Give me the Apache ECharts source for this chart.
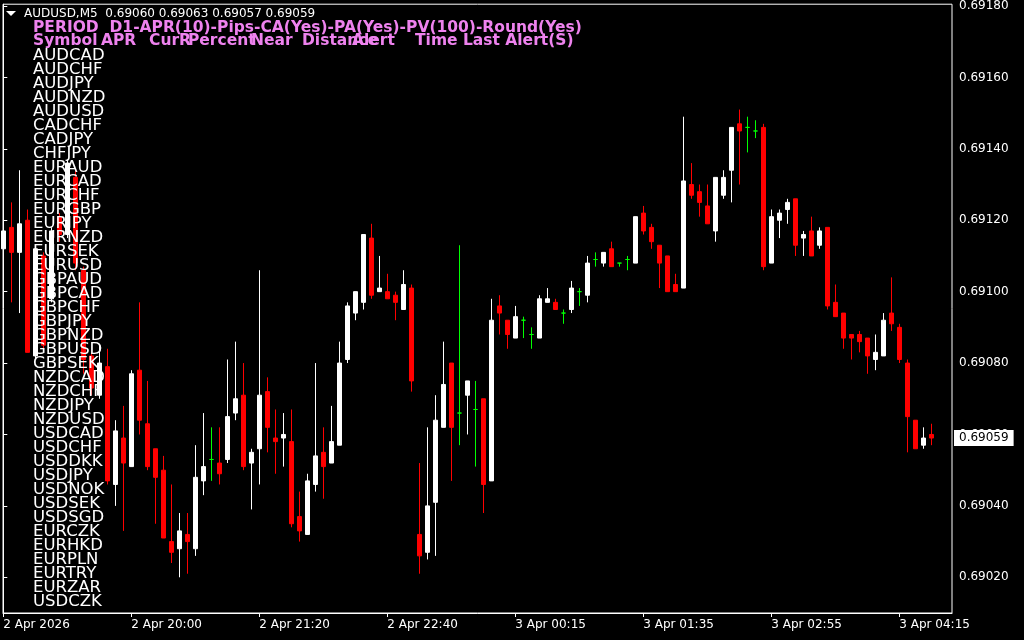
<!DOCTYPE html>
<html>
<head>
<meta charset="utf-8">
<title>AUDUSD,M5</title>
<script src="https://cdn.jsdelivr.net/npm/echarts@6/dist/echarts.min.js"></script>
<style>
  html, body { margin: 0; padding: 0; background: #000; }
  #chart { width: 1024px; height: 640px; }
</style>
</head>
<body>
<div id="chart"></div>
<script>
// M5 bars, oldest first
const opens = [
  0.69112, 0.69118, 0.69111, 0.69120, 0.69082, 0.69110, 0.69098, 0.69121, 0.69116, 0.69132,
  0.69106, 0.69082, 0.69071, 0.69079, 0.69046, 0.69059, 0.69051, 0.69078, 0.69063, 0.69056,
  0.69050, 0.69030, 0.69028, 0.69032, 0.69028, 0.69047, 0.69053, 0.69052, 0.69053, 0.69066,
  0.69071, 0.69052, 0.69056, 0.69072, 0.69059, 0.69059, 0.69058, 0.69037, 0.69032, 0.69046,
  0.69055, 0.69052, 0.69057, 0.69081, 0.69094, 0.69097, 0.69115, 0.69100, 0.69100, 0.69099,
  0.69095, 0.69101, 0.69032, 0.69027, 0.69041, 0.69062, 0.69080, 0.69066, 0.69071, 0.69067,
  0.69070, 0.69047, 0.69096, 0.69092, 0.69087, 0.69092, 0.69088, 0.69087, 0.69097, 0.69097,
  0.69094, 0.69095, 0.69100, 0.69099, 0.69109, 0.69108, 0.69112, 0.69108, 0.69109, 0.69108,
  0.69122, 0.69118, 0.69113, 0.69110, 0.69102, 0.69101, 0.69130, 0.69128, 0.69124, 0.69117,
  0.69127, 0.69134, 0.69147, 0.69146, 0.69145, 0.69146, 0.69108, 0.69120, 0.69123, 0.69126,
  0.69115, 0.69117, 0.69113, 0.69118, 0.69097, 0.69094, 0.69088, 0.69088, 0.69087, 0.69081,
  0.69082, 0.69094, 0.69090, 0.69080, 0.69064, 0.69057, 0.69060
]
const closes = [
  0.69117, 0.69111, 0.69119, 0.69083, 0.69112, 0.69085, 0.69117, 0.69116, 0.69136, 0.69108,
  0.69081, 0.69073, 0.69080, 0.69047, 0.69061, 0.69052, 0.69077, 0.69064, 0.69051, 0.69048,
  0.69031, 0.69027, 0.69033, 0.69030, 0.69048, 0.69051, 0.69053, 0.69049, 0.69065, 0.69070,
  0.69051, 0.69055, 0.69071, 0.69062, 0.69058, 0.69060, 0.69035, 0.69033, 0.69047, 0.69054,
  0.69051, 0.69058, 0.69080, 0.69096, 0.69100, 0.69116, 0.69099, 0.69101, 0.69098, 0.69097,
  0.69102, 0.69075, 0.69026, 0.69040, 0.69064, 0.69074, 0.69062, 0.69066, 0.69075, 0.69067,
  0.69046, 0.69092, 0.69094, 0.69088, 0.69093, 0.69092, 0.69088, 0.69098, 0.69098, 0.69095,
  0.69094, 0.69101, 0.69100, 0.69108, 0.69109, 0.69111, 0.69107, 0.69108, 0.69109, 0.69121,
  0.69117, 0.69114, 0.69108, 0.69100, 0.69100, 0.69131, 0.69127, 0.69125, 0.69119, 0.69132,
  0.69132, 0.69146, 0.69145, 0.69146, 0.69145, 0.69107, 0.69121, 0.69122, 0.69125, 0.69113,
  0.69116, 0.69110, 0.69117, 0.69096, 0.69093, 0.69087, 0.69087, 0.69086, 0.69082, 0.69083,
  0.69092, 0.69091, 0.69081, 0.69065, 0.69056, 0.69059, 0.69059
]
const lows = [
  0.69096, 0.69097, 0.69094, 0.69083, 0.69081, 0.69084, 0.69097, 0.69114, 0.69115, 0.69106,
  0.69077, 0.69071, 0.69070, 0.69046, 0.69040, 0.69033, 0.69051, 0.69060, 0.69050, 0.69035,
  0.69031, 0.69024, 0.69020, 0.69021, 0.69026, 0.69043, 0.69047, 0.69046, 0.69052, 0.69064,
  0.69050, 0.69039, 0.69046, 0.69055, 0.69049, 0.69051, 0.69034, 0.69030, 0.69032, 0.69044,
  0.69042, 0.69052, 0.69057, 0.69080, 0.69092, 0.69095, 0.69098, 0.69100, 0.69098, 0.69092,
  0.69095, 0.69072, 0.69021, 0.69025, 0.69026, 0.69062, 0.69047, 0.69057, 0.69060, 0.69051,
  0.69038, 0.69047, 0.69088, 0.69084, 0.69087, 0.69087, 0.69084, 0.69087, 0.69097, 0.69095,
  0.69091, 0.69094, 0.69096, 0.69097, 0.69107, 0.69107, 0.69107, 0.69107, 0.69106, 0.69108,
  0.69116, 0.69112, 0.69101, 0.69100, 0.69100, 0.69101, 0.69126, 0.69121, 0.69119, 0.69114,
  0.69126, 0.69125, 0.69130, 0.69139, 0.69143, 0.69106, 0.69108, 0.69115, 0.69119, 0.69110,
  0.69110, 0.69110, 0.69112, 0.69095, 0.69093, 0.69084, 0.69081, 0.69083, 0.69077, 0.69078,
  0.69082, 0.69089, 0.69080, 0.69055, 0.69056, 0.69056, 0.69057
]
const highs = [
  0.69119, 0.69125, 0.69134, 0.69123, 0.69113, 0.69111, 0.69118, 0.69122, 0.69137, 0.69134,
  0.69107, 0.69083, 0.69085, 0.69084, 0.69064, 0.69068, 0.69078, 0.69097, 0.69075, 0.69056,
  0.69054, 0.69046, 0.69038, 0.69038, 0.69057, 0.69066, 0.69062, 0.69062, 0.69081, 0.69086,
  0.69080, 0.69056, 0.69106, 0.69076, 0.69067, 0.69066, 0.69067, 0.69044, 0.69049, 0.69080,
  0.69062, 0.69068, 0.69086, 0.69097, 0.69100, 0.69116, 0.69119, 0.69110, 0.69105, 0.69100,
  0.69106, 0.69102, 0.69052, 0.69062, 0.69071, 0.69086, 0.69080, 0.69113, 0.69075, 0.69075,
  0.69070, 0.69098, 0.69099, 0.69092, 0.69096, 0.69093, 0.69090, 0.69099, 0.69101, 0.69098,
  0.69095, 0.69103, 0.69101, 0.69110, 0.69111, 0.69111, 0.69114, 0.69108, 0.69110, 0.69121,
  0.69124, 0.69119, 0.69113, 0.69110, 0.69105, 0.69149, 0.69136, 0.69130, 0.69130, 0.69132,
  0.69134, 0.69146, 0.69151, 0.69149, 0.69148, 0.69147, 0.69123, 0.69123, 0.69126, 0.69126,
  0.69117, 0.69121, 0.69118, 0.69118, 0.69102, 0.69094, 0.69088, 0.69089, 0.69087, 0.69088,
  0.69094, 0.69104, 0.69091, 0.69081, 0.69064, 0.69062, 0.69063
]

// time scale: bar index -> label
const tickIndex = [0, 16, 32, 48, 64, 80, 96, 112]
const tickLabels = ['2 Apr 2026', '2 Apr 20:00', '2 Apr 21:20', '2 Apr 22:40',
  '3 Apr 00:15', '3 Apr 01:35', '3 Apr 02:55', '3 Apr 04:15']
const priceTicks = [0.6902, 0.6904, 0.6906, 0.6908, 0.6910, 0.6912, 0.6914, 0.6916, 0.6918]

// indicator overlay text
const titleLine = 'AUDUSD,M5  0.69060 0.69063 0.69057 0.69059'
const periodLine = 'PERIOD  D1-APR(10)-Pips-CA(Yes)-PA(Yes)-PV(100)-Round(Yes)'
const columnTitles = ['Symbol', 'APR', 'CurR', 'Percent', 'Near', 'Distance', 'Alert', 'Time Last Alert(S)']
const watchList = [
  'AUDCAD', 'AUDCHF', 'AUDJPY', 'AUDNZD', 'AUDUSD', 'CADCHF', 'CADJPY', 'CHFJPY',
  'EURAUD', 'EURCAD', 'EURCHF', 'EURGBP', 'EURJPY', 'EURNZD', 'EURSEK', 'EURUSD',
  'GBPAUD', 'GBPCAD', 'GBPCHF', 'GBPJPY', 'GBPNZD', 'GBPUSD', 'GBPSEK', 'NZDCAD',
  'NZDCHF', 'NZDJPY', 'NZDUSD', 'USDCAD', 'USDCHF', 'USDDKK', 'USDJPY', 'USDNOK',
  'USDSEK', 'USDSGD', 'EURCZK', 'EURHKD', 'EURPLN', 'EURTRY', 'EURZAR', 'USDCZK'
]

// layout
const columnX = [33, 101, 149, 188, 251, 302, 352, 415]
const BULL = '#ffffff'
const BEAR = '#ff0000'
const DOJI = '#00ff00'
const VIOLET = '#ee82ee'
const AXIS_FONT = '"DejaVu Sans", sans-serif'

const candles = opens.map((o, i) => {
  const item = { value: [i, o, closes[i], lows[i], highs[i]] }
  if (o === closes[i]) {
    item.itemStyle = { color: DOJI, color0: DOJI, borderColor: DOJI, borderColor0: DOJI }
  }
  return item
})
const lastPrice = closes[closes.length - 1]

const overlay = [
  { type: 'polygon', z: 100, shape: { points: [[6, 11], [16, 11], [11, 16]] }, style: { fill: '#fff' } },
  {
    type: 'text', z: 100, x: 24, y: 14,
    style: { text: titleLine, fill: '#fff', font: '12px ' + AXIS_FONT, verticalAlign: 'middle' }
  },
  {
    type: 'text', z: 100, x: 33, y: 28,
    style: { text: periodLine, fill: VIOLET, font: 'bold 15.5px "DejaVu Sans"', verticalAlign: 'middle' }
  }
]
columnTitles.forEach((t, k) => {
  overlay.push({
    type: 'text', z: 100, x: columnX[k], y: 41,
    style: { text: t, fill: VIOLET, font: 'bold 15.5px "DejaVu Sans"', verticalAlign: 'middle' }
  })
})
watchList.forEach((s, k) => {
  overlay.push({
    type: 'text', z: 100, x: 33, y: 56 + k * 14,
    style: { text: s, fill: '#fff', font: '16.5px "DejaVu Sans"', verticalAlign: 'middle' }
  })
})

const priceRange = { min: 0.6901, max: 0.691805 }

const myChart = echarts.init(document.getElementById('chart'))
const options = {
  backgroundColor: '#000',
  animation: false,
  grid: {
    left: 3, top: 3, right: 72, bottom: 27,
    show: true, borderColor: '#fff', borderWidth: 1, backgroundColor: '#000'
  },
  xAxis: {
    type: 'value',
    min: -0.0375,
    max: 118.5875,
    axisLine: { lineStyle: { color: '#fff' } },
    axisTick: { show: true, length: 4, lineStyle: { color: '#fff' }, customValues: tickIndex },
    axisLabel: {
      color: '#fff', fontFamily: AXIS_FONT, fontSize: 12, align: 'left', margin: 6,
      customValues: tickIndex,
      formatter: v => tickLabels[tickIndex.indexOf(Math.round(v))] || ''
    },
    splitLine: { show: false }
  },
  yAxis: [
    {
      type: 'value',
      position: 'right',
      min: priceRange.min,
      max: priceRange.max,
      axisLine: { show: true, lineStyle: { color: '#fff' } },
      axisTick: { show: true, length: 4, lineStyle: { color: '#fff' }, customValues: priceTicks },
      axisLabel: {
        color: '#fff', fontFamily: AXIS_FONT, fontSize: 12, margin: 7,
        customValues: priceTicks,
        formatter: v => v.toFixed(5)
      },
      splitLine: { show: false }
    },
    {
      // current bid marker
      type: 'value',
      position: 'right',
      min: priceRange.min,
      max: priceRange.max,
      axisLine: { show: false },
      axisTick: { show: false },
      axisLabel: {
        color: '#000', backgroundColor: '#fff', padding: [2, 5, 2, 5],
        fontFamily: AXIS_FONT, fontSize: 12, margin: 2,
        customValues: [lastPrice],
        formatter: v => v.toFixed(5)
      },
      splitLine: { show: false }
    }
  ],
  series: [
    {
      type: 'candlestick',
      data: candles,
      encode: { x: 0, y: [1, 2, 3, 4] },
      barWidth: 4,
      itemStyle: {
        color: BULL, color0: BEAR, borderColor: BULL, borderColor0: BEAR,
        borderColorDoji: DOJI, borderWidth: 1
      }
    }
  ],
  graphic: overlay
}
myChart.setOption(options)
</script>
</body>
</html>
